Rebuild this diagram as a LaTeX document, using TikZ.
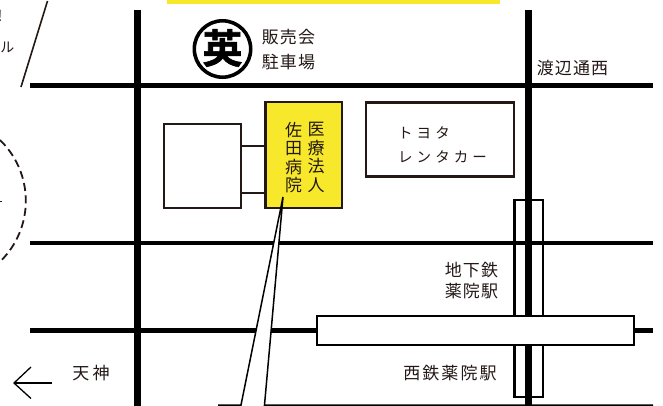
\documentclass[tikz,border=0pt]{standalone}
\usepackage{fontspec}
\newfontfamily\cjk{Noto Sans CJK JP}
\newfontfamily\cjkbold[FakeBold=1.5]{Noto Sans CJK JP Bold}
\newcommand{\spaced}[2]{\addfontfeature{LetterSpace=#1}#2}
\definecolor{ink}{HTML}{231815}
\definecolor{signal}{HTML}{F7E82B}
\tikzset{
  road/.style={line width=4.6pt,black},
  mainroad/.style={line width=7.2pt,black},
  thin/.style={line width=1.5pt,black},
  bldg/.style={draw=ink,line width=2.3pt,fill=white,inner sep=0pt,outer sep=0pt},
  lbl/.style={font=\cjk\fontsize{17}{18.5}\selectfont,text=ink,inner sep=0pt,outer sep=0pt,align=left,text height=14.5pt,text depth=2pt},
  vlbl/.style={font=\cjk\fontsize{17}{18.5}\selectfont,text=ink,inner sep=0pt,outer sep=0pt,align=center},
}
\begin{document}
\begin{tikzpicture}[x=1pt,y=-1pt]
\useasboundingbox (0,0) rectangle (663,406);
\begin{scope}
\clip (0,0) rectangle (663,406);
% top band
\fill[signal] (167,-2) rectangle (500,4);
% clipped fragments on the left
\node[font=\cjk\fontsize{15}{15}\selectfont,text=ink,inner sep=0pt,anchor=center] (frag1) at (0,16) {!};
\node[font=\cjk\fontsize{14}{14}\selectfont,text=ink,inner sep=0pt] (frag2) at (7.5,47) {ル};
\coordinate (ticka) at (0,201.5);
\coordinate (tickb) at (2,201.5);
\draw[ink,line width=1pt] (ticka) -- (tickb);
\coordinate (slasha) at (47.5,1);
\coordinate (slashb) at (21,87);
\draw[ink,line width=1.6pt] (slasha) -- (slashb);
\draw[ink,line width=1.8pt,dash pattern=on 8pt off 4.5pt] (0,140) arc[start angle=-46,end angle=46,radius=84.6];
% roads
\coordinate (h1a) at (30,85.5);\coordinate (h1b) at (653,85.5);
\coordinate (h2a) at (30,243);\coordinate (h2b) at (653,243);
\coordinate (h3a) at (30,330.7);\coordinate (h3b) at (653,330.7);
\coordinate (v1a) at (137.6,10);\coordinate (v1b) at (137.6,405.5);
\coordinate (v2a) at (528.6,10);\coordinate (v2b) at (528.6,406);
\draw[road] (h1a) -- (h1b);
\draw[road] (h2a) -- (h2b);
\draw[road] (h3a) -- (h3b);
\draw[mainroad] (v1a) -- (v1b);
\draw[mainroad] (v2a) -- (v2b);
% pointer
\coordinate (pa) at (218,405);
\coordinate (pb) at (241,405);
\coordinate (pc) at (283,197);
\coordinate (pd) at (264.5,405);
\coordinate (pe) at (653,405);
% stations
\node[draw=black,line width=2.3pt,inner sep=0pt,outer sep=0pt,minimum width=28.2pt,minimum height=197pt] (subway) at (528.6,298.5) {};
\node[draw=black,line width=1.9pt,fill=white,inner sep=0pt,outer sep=0pt,minimum width=316.7pt,minimum height=29pt] (nishitetsu) at (475.35,330.5) {};
% buildings
\node[bldg,minimum width=77pt,minimum height=84pt] (annex) at (202.5,166) {};
\node[bldg,fill=signal,minimum width=76.5pt,minimum height=106pt] (hospital) at (303.75,155) {};
\node[bldg,minimum width=147.7pt,minimum height=74pt] (toyota) at (439.85,139.5) {};
\coordinate (l1) at (250,146);
\coordinate (l2) at (250,192.7);
\draw[ink,line width=2pt] (annex.east |- l1) -- (hospital.west |- l1);
\draw[ink,line width=2pt] (annex.east |- l2) -- (hospital.west |- l2);
% pointer over roads
\fill[white] (pb) -- (pc) -- (pd) -- cycle;
\draw[thin] (pa) -- (pb) -- (pc) -- (pd) -- (pe);
% logo
\node[circle,draw=black,line width=3.6pt,fill=white,minimum size=56.4pt,inner sep=0pt,outer sep=0pt] (logo) at (222.5,49) {};
\node[font=\cjkbold\fontsize{40}{40}\selectfont,text=black,inner sep=0pt] (logotext) at (222.5,48) {英};
% labels
\node[lbl,anchor=center] (parking1) at (288.5,37) {\spaced{6}{販売会}};
\node[lbl,anchor=center] (parking2) at (288.5,62) {\spaced{6}{駐車場}};
\node[vlbl] (hosp1) at (316,157.5) {医\\療\\法\\人};
\node[vlbl] (hosp2) at (293.5,157.5) {佐\\田\\病\\院};
\node[lbl,font=\cjk\fontsize{14.5}{14.5}\selectfont,anchor=center] (toy1) at (424,132) {\spaced{28}{トヨタ}};
\node[lbl,font=\cjk\fontsize{14.5}{14.5}\selectfont,anchor=center] (toy2) at (442.5,156) {\spaced{28}{レンタカー}};
\node[lbl,anchor=center] (watanabe) at (572.5,68.5) {\spaced{6}{渡辺通西}};
\node[lbl,anchor=center] (sub1) at (471.5,270) {\spaced{6}{地下鉄}};
\node[lbl,anchor=center] (sub2) at (471.5,291.5) {\spaced{6}{薬院駅}};
\node[lbl,anchor=center] (nishi) at (450,373.5) {\spaced{12}{西鉄薬院駅}};
\node[lbl,anchor=center] (tenjin) at (91,373) {\spaced{18}{天神}};
% arrow
\coordinate (atip) at (14,383);
\coordinate (atail) at (52,383);
\coordinate (ah1) at (31,367);
\coordinate (ah2) at (31,398.5);
\draw[black,line width=1.3pt] (atail) -- (atip);
\draw[black,line width=1.3pt] (ah1) -- (atip) -- (ah2);
\end{scope}
\end{tikzpicture}
\end{document}
